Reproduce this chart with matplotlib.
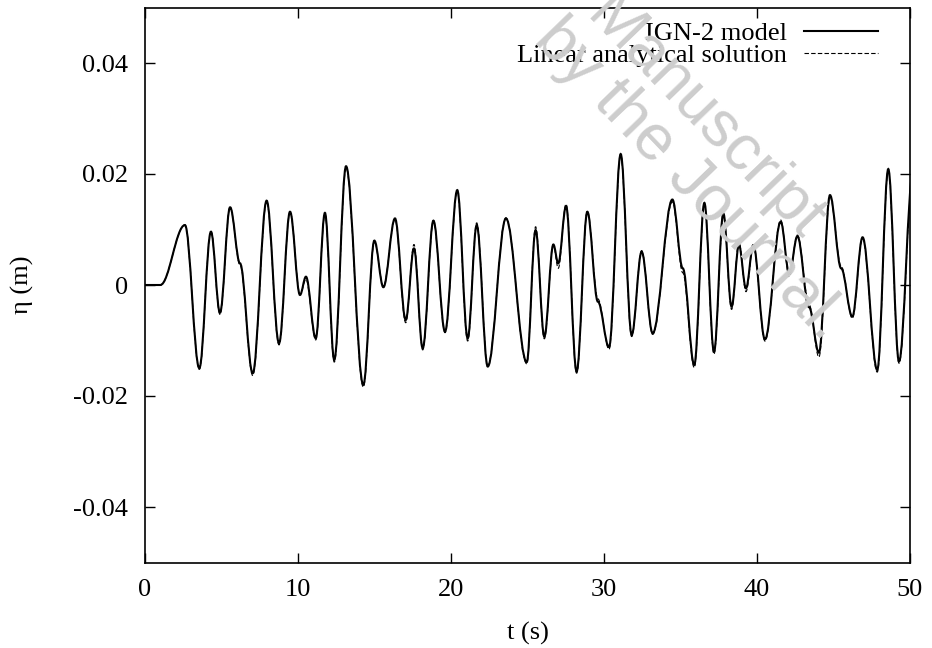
import matplotlib
matplotlib.use("Agg")
import matplotlib.pyplot as plt
from matplotlib.path import Path
from matplotlib.patches import PathPatch
from matplotlib.lines import Line2D
from matplotlib.ticker import FuncFormatter

# crests / troughs / shoulders of the surface elevation record
t_ext = [0.00, 1.00, 2.61, 3.55, 4.31, 4.90, 5.56, 6.21, 7.04, 7.95,
         8.76, 9.48, 10.13, 10.52, 11.16, 11.76, 12.37, 13.14, 14.27, 14.99,
         15.58, 16.34, 17.04, 17.58, 18.15, 18.85, 19.61, 20.41, 21.09, 21.68,
         22.40, 23.59, 24.95, 25.53, 26.10, 26.69, 27.01, 27.52, 28.21, 28.91,
         29.60, 30.33, 31.09, 31.81, 32.46, 33.18, 34.47, 35.15, 35.90, 36.56,
         37.19, 37.80, 38.34, 38.82, 39.28, 39.76, 40.52, 41.55, 42.11, 42.64,
         43.40, 44.05, 44.77, 45.50, 46.23, 46.90, 47.86, 48.58, 49.28, 50.20]

eta_ign2 = [0.0, 0.0, 0.0108, -0.0150, 0.0096, -0.0050, 0.0140, 0.0039, -0.0159, 0.0152,
            -0.0105, 0.0132, -0.0018, 0.0015, -0.0096, 0.0130, -0.0135, 0.0214, -0.0180, 0.0080,
            -0.0004, 0.0120, -0.0063, 0.0066, -0.0114, 0.0116, -0.0084, 0.0171, -0.0096, 0.0108,
            -0.0147, 0.0120, -0.0139, 0.0099, -0.0093, 0.0073, 0.0039, 0.0142, -0.0156, 0.0132,
            -0.0030, -0.0112, 0.0236, -0.0090, 0.0060, -0.0087, 0.0154, 0.0030, -0.0144, 0.0148,
            -0.0120, 0.0129, -0.0039, 0.0072, -0.0006, 0.0072, -0.0098, 0.0114, 0.0020, 0.0088,
            -0.0040, -0.0122, 0.0162, 0.0030, -0.0057, 0.0086, -0.0153, 0.0209, -0.0138, 0.0205]

eta_linear = [0.0, 0.0, 0.0108, -0.0152, 0.0097, -0.0053, 0.0141, 0.0036, -0.0163, 0.0150,
              -0.0108, 0.0133, -0.0017, 0.0010, -0.0099, 0.0128, -0.0139, 0.0211, -0.0184, 0.0078,
              -0.0002, 0.0118, -0.0068, 0.0073, -0.0117, 0.0114, -0.0086, 0.0169, -0.0101, 0.0112,
              -0.0146, 0.0121, -0.0142, 0.0105, -0.0097, 0.0072, 0.0030, 0.0146, -0.0159, 0.0133,
              -0.0025, -0.0116, 0.0233, -0.0093, 0.0062, -0.0089, 0.0150, 0.0022, -0.0149, 0.0145,
              -0.0125, 0.0127, -0.0044, 0.0078, -0.0012, 0.0070, -0.0101, 0.0117, 0.0015, 0.0090,
              -0.0035, -0.0130, 0.0159, 0.0034, -0.0060, 0.0084, -0.0157, 0.0206, -0.0141, 0.0198]

x_ticks = [0, 10, 20, 30, 40, 50]
y_ticks = [-0.04, -0.02, 0, 0.02, 0.04]
labels = ["IGN-2 model", "Linear analytical solution"]

plt.rcParams["font.family"] = ["Liberation Serif", "DejaVu Serif"]
plt.rcParams["font.size"] = 19
plt.rcParams["axes.unicode_minus"] = False


def wave_path(t, eta, k=0.364):
    # cubic pieces with flat tangents at every extremum -> cosine-like swing
    verts = [(t[0], eta[0])]
    codes = [Path.MOVETO]
    for i in range(len(t) - 1):
        dt = t[i + 1] - t[i]
        verts += [(t[i] + k * dt, eta[i]),
                  (t[i + 1] - k * dt, eta[i + 1]),
                  (t[i + 1], eta[i + 1])]
        codes += [Path.CURVE4] * 3
    return Path(verts, codes)


fig = plt.figure(figsize=(9.32, 6.48), dpi=100)

# faint watermark across the plot (runs off the top edge, as in the original)
wm = dict(color="#cdcdcd", fontsize=46, family="Liberation Sans",
          ha="center", va="center", rotation=-46, rotation_mode="anchor", zorder=0)
fig.text(705 / 932, 1 - 118 / 648, "Manuscript", **wm)
fig.text(690 / 932, 1 - 180 / 648, "by the Journal.", **wm)

ax = fig.add_axes([145 / 932, 1 - 562.5 / 648, 765 / 932, 555 / 648])
ax.patch.set_alpha(0)

ax.add_patch(PathPatch(wave_path(t_ext, eta_ign2), fill=False,
                       edgecolor="black", lw=1.5))
ax.add_patch(PathPatch(wave_path(t_ext, eta_linear), fill=False,
                       edgecolor="black", lw=0.8, linestyle=(0, (4, 2))))

ax.set_xlim(0, 50)
ax.set_ylim(-0.05, 0.05)
ax.set_xticks(x_ticks)
ax.set_yticks(y_ticks)
ax.yaxis.set_major_formatter(FuncFormatter(lambda v, p: "%g" % v))
ax.tick_params(direction="in", length=7, width=1, top=True, right=True, pad=12)
for s in ax.spines.values():
    s.set_linewidth(1.2)

ax.set_xlabel("t (s)", labelpad=15)
ax.set_ylabel("η (m)", labelpad=28)

handles = [Line2D([], [], color="black", lw=1.5),
           Line2D([], [], color="black", lw=0.8, linestyle=(0, (4, 2)))]
ax.legend(handles, labels, loc="upper right", bbox_to_anchor=(0.958, 0.974),
          frameon=False, markerfirst=False, handlelength=2.8, handletextpad=0.65,
          labelspacing=-0.08, borderpad=0, borderaxespad=0)

fig.savefig("out.png", dpi=100)
